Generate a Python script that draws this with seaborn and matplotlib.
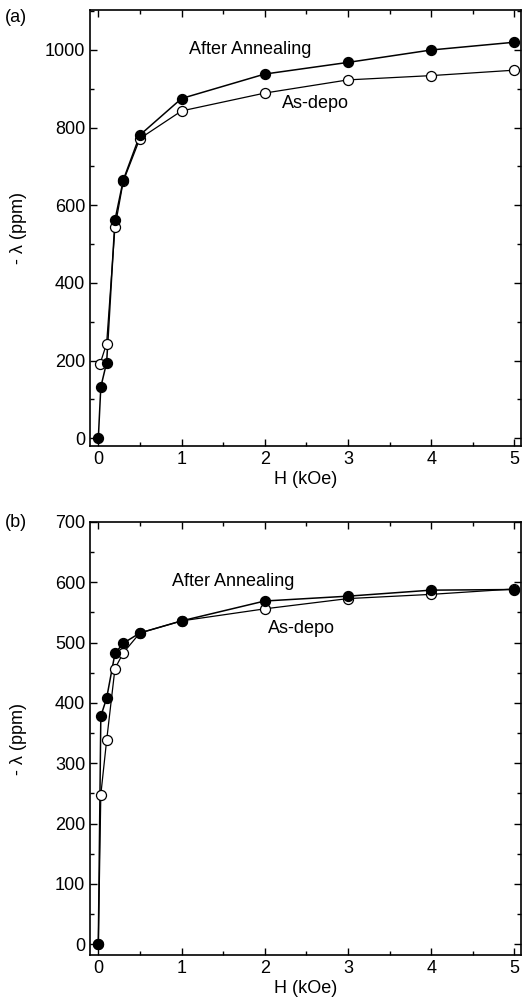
import matplotlib
matplotlib.use("Agg")
import matplotlib.pyplot as plt
import seaborn as sns
import pandas as pd
from matplotlib.ticker import MultipleLocator

# ---- data ----
H_a_ann = [0.0, 0.03, 0.1, 0.2, 0.3, 0.5, 1.0, 2.0, 3.0, 4.0, 5.0]
lam_a_ann = [0, 132, 195, 562, 665, 781, 875, 938, 968, 1000, 1020]
H_a_dep = [0.02, 0.1, 0.2, 0.3, 0.5, 1.0, 2.0, 3.0, 4.0, 5.0]
lam_a_dep = [191, 244, 543, 662, 772, 843, 889, 923, 934, 948]

H_b_ann = [0.0, 0.03, 0.1, 0.2, 0.3, 0.5, 1.0, 2.0, 3.0, 4.0, 5.0]
lam_b_ann = [0, 378, 408, 482, 499, 516, 536, 569, 577, 587, 588]
H_b_dep = [0.0, 0.03, 0.1, 0.2, 0.3, 0.5, 1.0, 2.0, 3.0, 4.0, 5.0]
lam_b_dep = [0, 248, 338, 457, 483, 516, 536, 556, 573, 580, 589]

labels_ann = "After Annealing"
labels_dep = "As-depo"

sns.set_style("ticks")
plt.rcParams['font.family'] = ['Liberation Sans', 'DejaVu Sans']
plt.rcParams['font.size'] = 13
plt.rcParams['text.color'] = 'black'
plt.rcParams['axes.labelcolor'] = 'black'

fig = plt.figure(figsize=(5.26, 10.05), dpi=100)
W, Hh = 526, 1005
def axrect(l, t, r, b):
    return [l / W, 1 - b / Hh, (r - l) / W, (b - t) / Hh]

ax1 = fig.add_axes(axrect(90, 10, 521, 446))
ax2 = fig.add_axes(axrect(90, 522, 521, 955))

def draw(ax, xa, ya, xd, yd):
    da = pd.DataFrame({"H": xa, "lam": ya})
    dd = pd.DataFrame({"H": xd, "lam": yd})
    sns.lineplot(data=dd, x="H", y="lam", ax=ax, color="black", lw=0.9, zorder=2)
    sns.lineplot(data=da, x="H", y="lam", ax=ax, color="black", lw=1.1, zorder=2)
    sns.scatterplot(data=dd, x="H", y="lam", ax=ax, s=52, facecolor="white",
                    edgecolor="black", linewidth=0.9, zorder=3)
    sns.scatterplot(data=da, x="H", y="lam", ax=ax, s=52, color="black",
                    edgecolor="black", linewidth=0.9, zorder=4)
    ax.set_xlim(-0.1, 5.08)
    ax.xaxis.set_major_locator(MultipleLocator(1))
    ax.xaxis.set_minor_locator(MultipleLocator(0.5))
    ax.tick_params(which="both", direction="in", top=True, right=True,
                   labelsize=13, width=1.0, colors="black")
    ax.tick_params(which="major", length=5)
    ax.tick_params(which="minor", length=3)
    for sp in ax.spines.values():
        sp.set_linewidth(1.2)
        sp.set_color("black")
    ax.set_xlabel("H (kOe)", fontsize=13, labelpad=2)
    ax.set_ylabel("- \u03bb (ppm)", fontsize=13)
    ax.yaxis.set_label_coords(-0.146, 0.5)

draw(ax1, H_a_ann, lam_a_ann, H_a_dep, lam_a_dep)
ax1.set_ylim(-20, 1103)
ax1.yaxis.set_major_locator(MultipleLocator(200))
ax1.yaxis.set_minor_locator(MultipleLocator(100))
ax1.text(1.09, 1000, labels_ann, fontsize=13, va="center", ha="left")
ax1.text(2.21, 863, labels_dep, fontsize=13, va="center", ha="left")

draw(ax2, H_b_ann, lam_b_ann, H_b_dep, lam_b_dep)
ax2.set_ylim(-18, 700)
ax2.yaxis.set_major_locator(MultipleLocator(100))
ax2.yaxis.set_minor_locator(MultipleLocator(50))
ax2.text(0.88, 601, labels_ann, fontsize=13, va="center", ha="left")
ax2.text(2.04, 524, labels_dep, fontsize=13, va="center", ha="left")

fig.text(5 / W, 1 - 17 / Hh, "(a)", fontsize=13, va="center", ha="left")
fig.text(5 / W, 1 - 522 / Hh, "(b)", fontsize=13, va="center", ha="left")

fig.savefig("out.png", dpi=100)
